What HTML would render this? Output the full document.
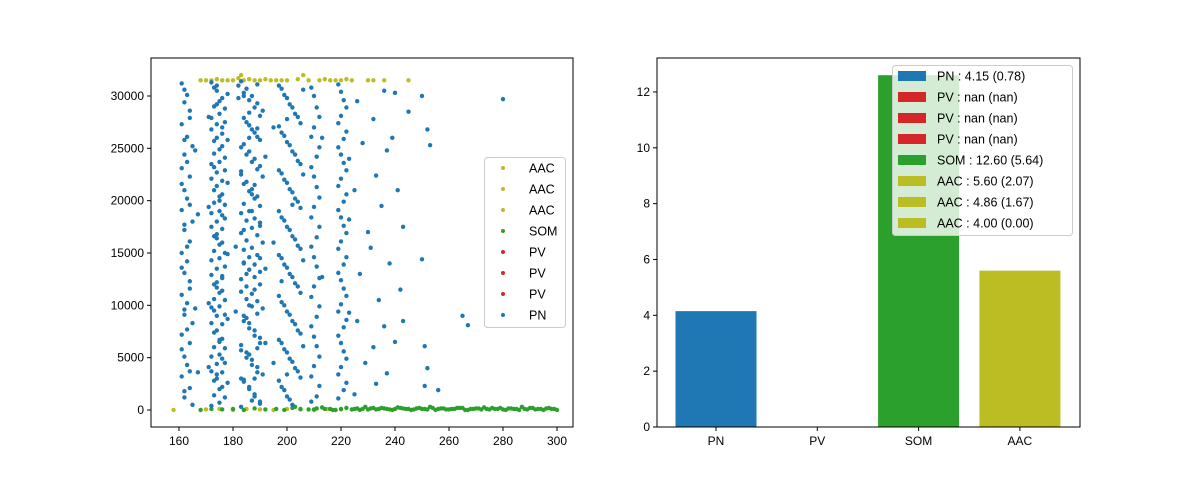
<!DOCTYPE html>
<html><head><meta charset="utf-8"><style>
body{margin:0;background:#fff;}
svg{display:block;font-family:"Liberation Sans",sans-serif;}
</style></head><body>
<svg id="chart" width="1200" height="480"></svg>
<script>
// ---------- data ----------
const pnXY = [161,31.2,163,30.1,162,29.4,164,28.6,161,27.3,163,26.1,165,25.2,162,24.4,161,23.1,164,22.3,162,21.0,163,20.2,161,19.1,165,18.0,162,17.2,164,16.1,161,15.0,163,14.2,162,13.1,164,12.3,161,11.0,163,10.2,162,9.1,165,8.3,161,7.2,164,6.4,162,5.1,163,4.3,161,3.2,164,2.1,162,1.2,165,0.5,166,24.8,167,18.7,166,9.7,167,3.6,
172,31.3,174,30.5,176,29.8,173,29.0,175,28.3,177,27.5,172,26.8,174,26.0,176,25.2,173,24.5,175,23.7,177,22.9,172,22.1,174,21.4,176,20.6,173,19.8,175,19.0,177,18.3,172,17.5,174,16.8,176,16.0,173,15.2,175,14.5,177,13.7,172,12.9,174,12.2,176,11.4,173,10.6,175,9.9,177,9.1,172,8.3,174,7.6,176,6.8,173,6.0,175,5.3,177,4.5,172,3.7,174,3.0,176,2.2,173,1.4,175,0.7,174,31.0,176,27.0,173,23.2,175,20.0,174,16.4,176,12.6,173,9.5,175,6.5,174,3.4,178,30.2,178,25.8,178,21.7,178,14.9,178,8.7,178,2.6,171,28.0,171,19.4,171,10.2,171,4.1,
183,31.4,185,30.7,187,30.0,189,29.3,191,28.6,184,27.9,186,27.2,188,26.5,190,25.8,183,25.1,185,24.4,187,23.7,189,23.0,191,22.3,184,21.6,186,20.9,188,20.2,190,19.5,183,18.8,185,18.1,187,17.4,189,16.7,191,16.0,184,15.3,186,14.6,188,13.9,190,13.2,183,12.5,185,11.8,187,11.1,189,10.4,191,9.7,184,9.0,186,8.3,188,7.6,190,6.9,183,6.2,185,5.5,187,4.8,189,4.1,191,3.4,184,2.7,186,2.0,188,1.3,190,0.6,182,29.8,186,28.4,189,26.9,183,22.8,187,20.6,190,17.9,184,14.0,188,11.5,185,8.8,189,5.9,183,3.0,187,0.9,192,24.2,192,13.5,192,6.4,181,15.6,181,9.4,
197,31.0,199,30.1,201,29.2,203,28.3,205,27.4,198,26.5,200,25.6,202,24.7,204,23.8,197,22.9,199,22.0,201,21.1,203,20.2,205,19.3,198,18.4,200,17.5,202,16.6,204,15.7,197,14.8,199,13.9,201,13.0,203,12.1,205,11.2,198,10.3,200,9.4,202,8.5,204,7.6,197,6.7,199,5.8,201,4.9,203,4.0,205,3.1,198,2.2,200,1.3,202,0.5,206,30.6,206,22.5,206,14.3,206,6.1,195,27.0,195,16.0,195,4.5,
209,30.8,211,28.9,210,27.0,212,25.1,209,23.2,211,21.3,210,19.4,212,17.5,209,15.6,211,13.7,210,11.8,212,9.9,209,8.0,211,6.1,210,4.2,212,2.3,209,0.8,213,26.0,213,12.7,
219,31.1,221,29.6,220,28.1,222,26.6,219,25.1,221,23.6,220,22.1,222,20.6,219,19.1,221,17.6,220,16.1,222,14.6,219,13.1,221,11.6,220,10.1,222,8.6,219,7.1,221,5.6,220,4.1,222,2.6,219,1.1,223,24.0,223,18.2,223,9.3,
226,29.5,228,25.5,225,21.0,230,17.0,227,13.0,226,8.5,229,4.5,225,1.5,232,27.8,233,22.4,231,15.5,234,10.5,232,6.0,233,2.5,236,30.5,237,24.8,235,19.5,238,14.0,236,8.0,237,3.5,240,30.3,241,21.0,239,26.0,242,11.5,240,6.5,243,17.5,250,30.0,252,26.8,253,25.3,250,14.4,251,6.1,252,4.0,251,2.3,265,9.0,267,8.1,256,1.9,280,29.7,245,28.5,243,8.5,
173,30.8,175,29.5,177,28.8,172,27.9,174,27.3,176,26.4,173,25.7,175,24.9,177,24.1,172,23.5,174,22.7,176,21.9,173,21.0,175,20.4,177,19.6,172,18.8,174,18.0,176,17.3,173,16.6,175,15.8,177,15.0,172,14.3,174,13.5,176,12.8,173,12.0,175,11.2,177,10.5,172,9.8,174,9.0,176,8.2,173,7.4,175,6.7,177,5.9,172,5.1,174,4.4,176,3.6,173,2.8,175,2.0,177,1.2,172,0.4,
182,31.0,184,30.3,186,29.6,188,28.9,190,28.1,185,27.5,187,26.8,189,26.1,184,25.4,186,24.7,188,24.0,190,23.3,183,22.5,185,21.8,187,21.1,189,20.4,184,19.7,186,19.0,188,18.3,190,17.6,183,16.9,185,16.2,187,15.5,189,14.8,184,14.1,186,13.4,188,12.7,190,12.0,183,11.3,185,10.6,187,9.9,189,9.2,184,8.5,186,7.8,188,7.1,190,6.4,183,5.7,185,5.0,187,4.3,189,3.6,184,2.9,186,2.2,188,1.5,190,0.8,183,0.3,189,31.1,187,19.0,185,13.0,
198,30.7,200,29.8,202,28.9,204,28.0,197,27.1,199,26.2,201,25.3,203,24.4,205,23.5,198,22.6,200,21.7,202,20.8,204,19.9,197,19.0,199,18.1,201,17.2,203,16.3,205,15.4,198,14.5,200,13.6,202,12.7,204,11.8,197,10.9,199,10.0,201,9.1,203,8.2,205,7.3,198,6.4,200,5.5,202,4.6,204,3.7,197,2.8,199,1.9,201,1.0,
162,30.6,164,27.9,162,25.8,163,23.7,161,21.6,164,19.6,162,17.7,163,15.6,161,13.6,164,11.6,162,9.6,163,7.7,161,5.8,164,3.7,162,1.8,
210,30.0,212,28.0,209,26.1,211,24.2,210,22.3,212,20.3,209,18.4,211,16.5,210,14.6,212,12.6,209,10.8,211,8.9,210,7.0,212,5.1,209,3.2,211,1.3,
220,30.4,222,28.9,219,27.4,221,25.9,220,24.4,222,22.9,219,21.4,221,19.9,220,18.4,222,16.9,219,15.4,221,13.9,220,12.4,222,10.9,219,9.4,221,7.9,220,6.4,222,4.9,219,3.4,221,1.9,
174,29.2,186,26.0,188,21.5,184,17.2,186,10.0,188,3.0,176,18.6,174,11.7,176,4.9,200,27.8,202,19.6,198,12.3,200,3.4,184,30.0,190,14.5,186,5.3];
const somX = [168,172,176,180,184,188,192,196,199,202,205,208,211,214,217,220,222,224,226,228,230,232,234,236,238,240,242,244,246,248,250,252,254,256,258,260,262,264,266,268,270,272,274,276,278,280,282,284,286,288,290,292,294,296,298,300,203,213,229,241,253,263,273,287,297,
225,227,231,233,235,237,239,243,245,247,249,251,255,257,259,261,265,267,269,271,275,277,279,281,283,285,289,291,293,295,299,210,216,218];
const somY = [0.0,0.1,0.05,0.1,0.0,0.15,0.05,0.1,0.0,0.2,0.1,0.05,0.15,0.1,0.0,0.1,0.2,0.05,0.15,0.1,0.05,0.2,0.1,0.15,0.05,0.1,0.2,0.1,0.0,0.15,0.1,0.05,0.2,0.1,0.15,0.05,0.1,0.2,0.0,0.1,0.15,0.05,0.1,0.2,0.1,0.05,0.15,0.1,0.0,0.1,0.2,0.05,0.1,0.15,0.1,0.0,0.3,0.25,0.3,0.25,0.3,0.2,0.25,0.3,0.2,
0.1,0.0,0.15,0.05,0.2,0.1,0.0,0.15,0.1,0.05,0.2,0.1,0.0,0.15,0.05,0.1,0.2,0.0,0.1,0.15,0.05,0.1,0.2,0.0,0.15,0.1,0.05,0.2,0.1,0.0,0.1,0.05,0.1,0.0];
const aacX = [168,170,172,174,176,178,180,182,183,184,186,188,190,192,194,196,198,200,204,206,208,212,214,216,218,220,222,224,230,232,236,245,158,170,175,180,185,190,195,200,205,210,215,220];
const aacY = [31.5,31.5,31.5,31.6,31.5,31.5,31.5,31.7,32.0,31.5,31.6,31.5,31.5,31.6,31.5,31.5,31.5,31.5,31.6,32.0,31.5,31.5,31.6,31.5,31.5,31.5,31.6,31.5,31.5,31.5,31.5,31.5,0.0,0.05,0.1,0.0,0.1,0.05,0.0,0.1,0.05,0.0,0.1,0.05];
const barCats = ["PN","PV","SOM","AAC"];
const barVals = [4.15,0,12.6,5.6];
const barColors = ["#1f77b4","#d62728","#2ca02c","#bcbd22"];
const legendLabels = ["PN : 4.15 (0.78)","PV : nan (nan)","PV : nan (nan)","PV : nan (nan)","SOM : 12.60 (5.64)","AAC : 5.60 (2.07)","AAC : 4.86 (1.67)","AAC : 4.00 (0.00)"];
const legendColors = ["#1f77b4","#d62728","#d62728","#d62728","#2ca02c","#bcbd22","#bcbd22","#bcbd22"];
const leftLegLabels = ["AAC","AAC","AAC","SOM","PV","PV","PV","PN"];
const leftLegColors = ["#bcbd22","#bcbd22","#bcbd22","#2ca02c","#d62728","#d62728","#d62728","#1f77b4"];
const xTicks = [160,180,200,220,240,260,280,300];
const yTicks = [0,5000,10000,15000,20000,25000,30000];
const yTicksR = [0,2,4,6,8,10,12];

// ---------- helpers ----------
const svg = document.getElementById('chart');
const NS = 'http://www.w3.org/2000/svg';
function mk(tag, attrs, parent){const e=document.createElementNS(NS,tag);for(const k in attrs)e.setAttribute(k,attrs[k]);(parent||svg).appendChild(e);return e;}
function txt(s, attrs, parent){const e=mk('text',attrs,parent);e.textContent=s;return e;}

// left axes
const L={x0:151,x1:573,y0:58,y1:427};
const xs=v=>179+(v-160)*2.7;
const ys=v=>410-v*0.010467;
const gL=mk('g',{});


for(let i=0;i<aacX.length;i++){const c=mk('circle',{cx:xs(aacX[i]),cy:ys(aacY[i]*1000),r:2.2,fill:'#bcbd22'},gL);}
for(let i=0;i<somX.length;i++){const c=mk('circle',{cx:xs(somX[i]),cy:ys(somY[i]*1000),r:2.2,fill:'#2ca02c'},gL);}
for(let i=0;i<pnXY.length;i+=2){const c=mk('circle',{cx:xs(pnXY[i]),cy:ys(pnXY[i+1]*1000),r:2.2,fill:'#1f77b4'},gL);}
mk('rect',{x:L.x0,y:L.y0,width:L.x1-L.x0,height:L.y1-L.y0,fill:'none',stroke:'#000','stroke-width':1},gL);
xTicks.forEach(t=>{const x=xs(t);mk('line',{x1:x,x2:x,y1:L.y1,y2:L.y1+4,stroke:'#000'},gL);const e=txt(String(t),{x:x,y:L.y1+18,'font-size':12,'text-anchor':'middle'},gL);});
yTicks.forEach(t=>{const y=ys(t);mk('line',{x1:L.x0-4,x2:L.x0,y1:y,y2:y,stroke:'#000'},gL);const e=txt(String(t),{x:L.x0-7,y:y+4,'font-size':12,'text-anchor':'end'},gL);});
// left legend
const lg=mk('g',{},gL);


mk('rect',{x:484.5,y:157.5,width:81,height:170,rx:3,fill:'#fff','fill-opacity':0.8,stroke:'#ccc'},lg);
leftLegLabels.forEach((s,i)=>{const y=168+i*21;mk('circle',{cx:503,cy:y,r:2,fill:leftLegColors[i]},lg);const e=txt(s,{x:529,y:y+4.5,'font-size':12.5},lg);});

// right axes
const R={x0:657,x1:1080,y0:58,y1:427};
const bx=i=>716+i*101.3;
const by=v=>427-v*27.92;
const gR=mk('g',{});


barVals.forEach((v,i)=>{const r=mk('rect',{x:bx(i)-40.5,y:by(v),width:81,height:427-by(v),fill:barColors[i]},gR);});
mk('rect',{x:R.x0,y:R.y0,width:R.x1-R.x0,height:R.y1-R.y0,fill:'none',stroke:'#000'},gR);
barCats.forEach((c,i)=>{const x=bx(i);mk('line',{x1:x,x2:x,y1:R.y1,y2:R.y1+4,stroke:'#000'},gR);const e=txt(c,{x:x,y:R.y1+18,'font-size':12,'text-anchor':'middle'},gR);});
yTicksR.forEach(t=>{const y=by(t);mk('line',{x1:R.x0-4,x2:R.x0,y1:y,y2:y,stroke:'#000'},gR);const e=txt(String(t),{x:R.x0-7,y:y+4,'font-size':12,'text-anchor':'end'},gR);});
const rg=mk('g',{},gR);


mk('rect',{x:892.5,y:65.5,width:180,height:170,rx:3,fill:'#fff','fill-opacity':0.8,stroke:'#ccc'},rg);
legendLabels.forEach((s,i)=>{const y=76+i*21;mk('rect',{x:898,y:y-5,width:28,height:10,fill:legendColors[i]},rg);const e=txt(s,{x:937,y:y+4.5,'font-size':12.5},rg);});
</script>
</body></html>
